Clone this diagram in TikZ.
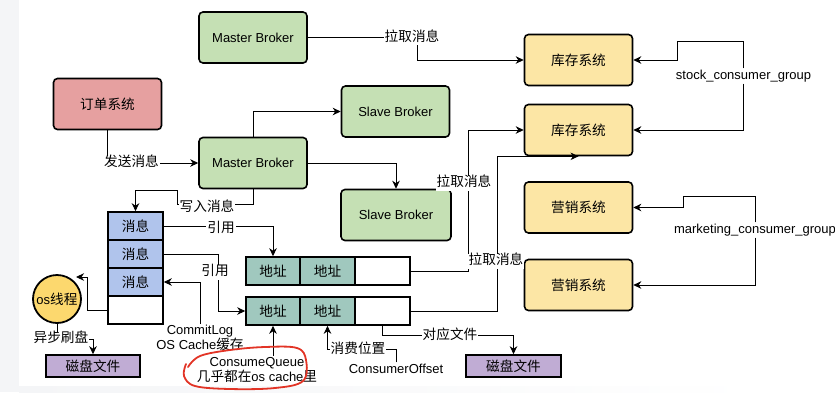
\documentclass[tikz,border=0pt]{standalone}
\usepackage{fontspec}
\setmainfont{Liberation Sans}
\newfontfamily\cjk[Scale=1.05]{Noto Sans CJK SC}
\usetikzlibrary{arrows.meta}
\newcommand\zh[1]{{\cjk #1}}
\definecolor{cgreen}{RGB}{197,224,180}
\definecolor{cred}{RGB}{230,160,160}
\definecolor{cyellow}{RGB}{252,230,165}
\definecolor{cblue}{RGB}{176,196,236}
\definecolor{cteal}{RGB}{160,200,190}
\definecolor{cos}{RGB}{252,216,110}
\definecolor{cpurple}{RGB}{192,172,212}
\definecolor{cstrip}{RGB}{244,245,247}
\definecolor{cmark}{RGB}{226,52,38}
\begin{document}
\begin{tikzpicture}[x=1pt,y=-1pt,
  font=\fontsize{13}{15}\selectfont,
  box/.style={draw, line width=1.6pt, rounded corners=4pt, minimum width=108pt, minimum height=51pt, inner sep=0pt},
  cell/.style={draw, line width=1.6pt, minimum width=55pt, minimum height=28pt, inner sep=0pt},
  disk/.style={draw, line width=1.6pt, fill=cpurple, minimum width=94pt, minimum height=22pt, inner sep=0pt},
  lbl/.style={fill=white, inner sep=1pt, text height=10pt, text depth=3pt},
  txt/.style={inner sep=1pt, align=center},
  arr/.style={draw, line width=0.9pt, -{Stealth[length=8pt,width=7.5pt,inset=2.5pt]}},
  ln/.style={draw, line width=0.9pt}]
\useasboundingbox (0,0) rectangle (835,392);
\fill[cstrip] (0,0) rectangle (19,392);
\shade[left color=cstrip, right color=white] (19,386) rectangle (760,392);

% main boxes
\node[box, fill=cgreen] (mb1) at (253,37.5) {Master Broker};
\node[box, fill=cred] (order) at (107.5,104) {\zh{订单系统}};
\node[box, fill=cgreen] (sb1) at (395.5,111.5) {Slave Broker};
\node[box, fill=cgreen] (mb2) at (253,163) {Master Broker};
\node[box, fill=cgreen, minimum width=110pt] (sb2) at (396,215) {Slave Broker};
\node[box, fill=cyellow] (kc1) at (578.5,60) {\zh{库存系统}};
\node[box, fill=cyellow] (kc2) at (578.5,130) {\zh{库存系统}};
\node[box, fill=cyellow] (yx1) at (578.5,207.5) {\zh{营销系统}};
\node[box, fill=cyellow] (yx2) at (578.5,285) {\zh{营销系统}};

% commit log
\node[cell, fill=cblue] (msg1) at (135.5,226) {\zh{消息}};
\node[cell, fill=cblue] (msg2) at (135.5,254) {\zh{消息}};
\node[cell, fill=cblue] (msg3) at (135.5,282) {\zh{消息}};
\node[cell, fill=white] (msg4) at (135.5,310) {};

% consume queues
\node[cell, fill=cteal, minimum width=54pt] (a11) at (273,271) {\zh{地址}};
\node[cell, fill=cteal] (a12) at (327.5,271) {\zh{地址}};
\node[cell, fill=white] (a13) at (382.5,271) {};
\node[cell, fill=cteal, minimum width=54pt] (a21) at (273,311) {\zh{地址}};
\node[cell, fill=cteal] (a22) at (327.5,311) {\zh{地址}};
\node[cell, fill=white] (a23) at (382.5,311) {};

% os thread and disks
\node[circle, draw, line width=1.8pt, fill=cos, minimum size=48pt, inner sep=0pt] (os) at (57,299) {os\zh{线程}};
\node[disk] (disk1) at (93,366) {\zh{磁盘文件}};
\node[disk, minimum width=95pt] (disk2) at (513.5,366) {\zh{磁盘文件}};

% free labels that are edge ends
\node[txt] (lcl) at (200,338) {CommitLog\\OS Cache\zh{缓存}};
\node[txt] (lcq) at (257,370) {ConsumeQueue\\\zh{几乎都在}os cache\zh{里}};
\node[lbl] (lco) at (396,370) {ConsumerOffset};
\node[lbl] (stock) at (743.5,76) {stock\_consumer\_group};
\node[lbl] (mkt) at (755,230) {marketing\_consumer\_group};
\coordinate (osin) at (76,277);

% connectors
\path[arr] (mb1.east) -| (417,60) -- (kc1.west);
\path[arr] (order.south) |- (mb2.west);
\path[arr] (mb2.north) |- (sb1.west);
\path[arr] (mb2.east) -| (sb2.north);
\path[arr] (mb2.south) -- (253,204) -- (177,204) -- (177,190) -| (msg1.north);
\path[arr] (msg1.east) -| (a11.north);
\path[arr] (msg2.east) -- (218,254) |- (a21.west);
\path[arr] (lcl.north) |- (msg3.east);
\path[arr] (msg4.west) -- (87,310) -- (87,277) -- (osin);
\path[arr] (os.south) -- (57,339) -| (disk1.north);
\path[arr] (a21.south |- lcq.north) -- (a21.south);
\path[arr] (lco.north) -- (396,349) -| (a22.south);
\path[arr] (a23.south) -- (382.5,335) -| (disk2.north);
\path[arr] (a13.east) -- (468,271) |- (kc2.west);
\path[arr] (a23.east) -- (497,311) |- (kc2.south);
\path[arr] (stock.north) |- (677,41.5) |- (kc1.east);
\path[arr] (stock.south) |- (kc2.east);
\path[arr] (mkt.north) |- (683,196) |- (yx1.east);
\path[arr] (mkt.south) |- (yx2.east);

% labels on connectors
\node[lbl] (lpull1) at (412,37.5) {\zh{拉取消息}};
\node[lbl] (lsend) at (131.5,163) {\zh{发送消息}};
\node[lbl] (lwrite) at (207,208) {\zh{写入消息}};
\node[lbl] (lref1) at (221,229) {\zh{引用}};
\node[lbl] (lref2) at (215,272) {\zh{引用}};
\node[lbl] (lasync) at (61,339) {\zh{异步刷盘}};
\node[lbl] (lpos) at (358,350) {\zh{消费位置}};
\node[lbl] (lfile) at (450,336) {\zh{对应文件}};
\node[lbl] (lpull2) at (464,183) {\zh{拉取消息}};
\node[lbl] (lpull3) at (496,261) {\zh{拉取消息}};

% red hand-drawn mark
\draw[cmark, line width=1.8pt, line cap=round] plot[smooth, tension=0.6] coordinates
  {(188,367) (200,356) (230,350) (265,347) (297,348) (306,360) (303,381) (275,388) (230,389) (195,386) (184,376) (186,364)};
\end{tikzpicture}
\end{document}
